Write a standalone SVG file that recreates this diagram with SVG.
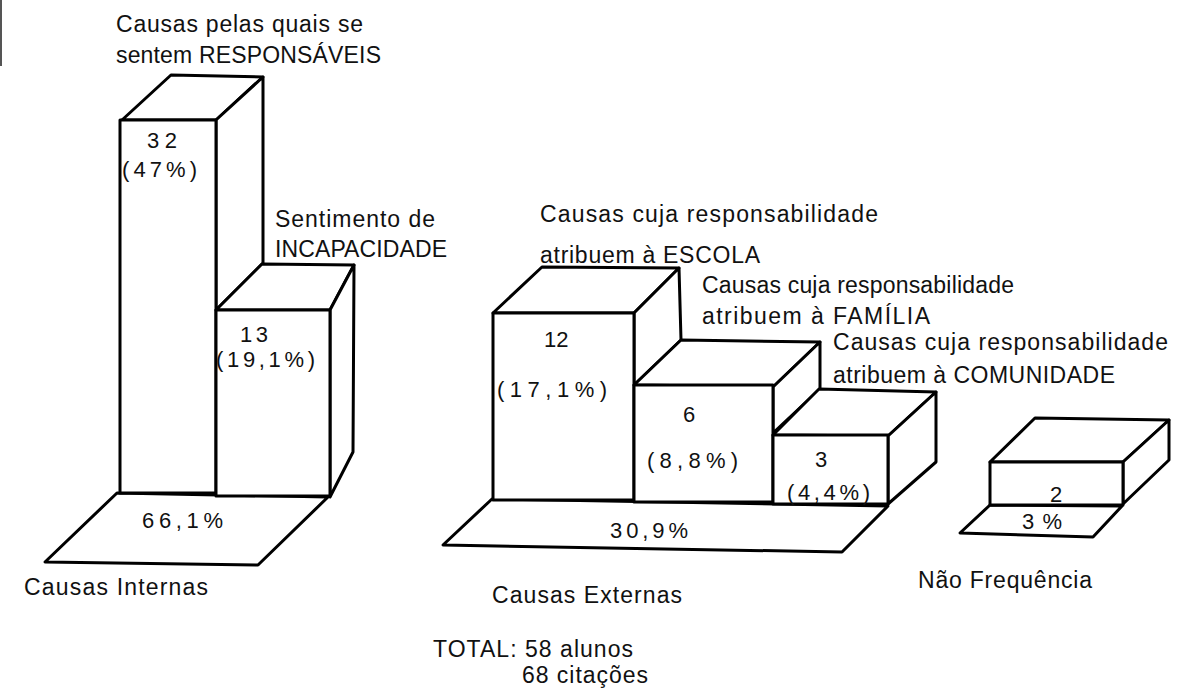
<svg xmlns="http://www.w3.org/2000/svg" width="1194" height="700" viewBox="0 0 1194 700">
<style>
.f{fill:#fff;stroke:#000;stroke-width:3;stroke-linejoin:round}
.t{font-family:"Liberation Sans",Arial,sans-serif;font-size:23px;fill:#111}
.n{font-family:"Liberation Sans",Arial,sans-serif;font-size:22px;fill:#111}
</style>
<rect width="1194" height="700" fill="#fff"/>
<line x1="1" y1="0" x2="1" y2="66" stroke="#555" stroke-width="2"/>
<g id="internas">
<polygon class="f" points="117,493 328,497 258,565 45,562"/>
<polygon class="f" points="122,120 171,75 263,77 216,120"/>
<polygon class="f" points="216,120 263,77 263,263 216,310"/>
<rect class="f" x="120" y="120" width="96" height="373"/>
<polygon class="f" points="216,310 262,264 354,265 330,310"/>
<polygon class="f" points="330,310 354,265 353,452 330,497"/>
<rect class="f" x="216" y="310" width="114" height="186"/>
<text class="n" x="147" y="148" textLength="30" lengthAdjust="spacing">32</text>
<text class="n" x="122" y="177" textLength="75" lengthAdjust="spacing">(47%)</text>
<text class="n" x="240" y="342" textLength="28" lengthAdjust="spacing">13</text>
<text class="n" x="216" y="367" textLength="99" lengthAdjust="spacing">(19,1%)</text>
<text class="n" x="142" y="528" textLength="81" lengthAdjust="spacing">66,1%</text>
<text class="t" x="116" y="32" textLength="247" lengthAdjust="spacing">Causas pelas quais se</text>
<text class="t" x="116" y="63" textLength="265" lengthAdjust="spacing">sentem RESPONSÁVEIS</text>
<text class="t" x="275" y="227" textLength="160" lengthAdjust="spacing">Sentimento de</text>
<text class="t" x="275" y="257" textLength="172" lengthAdjust="spacing">INCAPACIDADE</text>
<text class="t" x="24" y="595" textLength="184" lengthAdjust="spacing">Causas Internas</text>
</g>
<g id="externas">
<polygon class="f" points="492,499 888,506 842,552 443,545"/>
<polygon class="f" points="493,313 542,267 679,268 634,313"/>
<polygon class="f" points="634,313 679,268 681,340 634,385"/>
<rect class="f" x="493" y="313" width="141" height="187"/>
<polygon class="f" points="634,385 681,340 820,342 773,387"/>
<polygon class="f" points="773,387 820,342 820,389 773,433"/>
<rect class="f" x="634" y="385" width="139" height="117"/>
<polygon class="f" points="773,435 819,389 936,392 888,436"/>
<polygon class="f" points="888,436 936,392 936,462 888,504"/>
<rect class="f" x="773" y="435" width="115" height="69"/>
<text class="n" x="544" y="347">12</text>
<text class="n" x="497" y="397" textLength="110" lengthAdjust="spacing">(17,1%)</text>
<text class="n" x="683" y="422">6</text>
<text class="n" x="647" y="468" textLength="91" lengthAdjust="spacing">(8,8%)</text>
<text class="n" x="815" y="467">3</text>
<text class="n" x="787" y="500" textLength="83" lengthAdjust="spacing">(4,4%)</text>
<text class="n" x="610" y="538" textLength="78" lengthAdjust="spacing">30,9%</text>
<text class="t" x="540" y="222" textLength="338" lengthAdjust="spacing">Causas cuja responsabilidade</text>
<text class="t" x="540" y="263" textLength="220" lengthAdjust="spacing">atribuem à ESCOLA</text>
<text class="t" x="702" y="293" textLength="312" lengthAdjust="spacing">Causas cuja responsabilidade</text>
<text class="t" x="702" y="324" textLength="228" lengthAdjust="spacing">atribuem à FAMÍLIA</text>
<text class="t" x="833" y="350" textLength="335" lengthAdjust="spacing">Causas cuja responsabilidade</text>
<text class="t" x="833" y="383" textLength="282" lengthAdjust="spacing">atribuem à COMUNIDADE</text>
<text class="t" x="492" y="603" textLength="190" lengthAdjust="spacing">Causas Externas</text>
</g>
<g id="nao-frequencia">
<polygon class="f" points="990,505 1122,506 1093,537 960,533"/>
<polygon class="f" points="990,462 1035,418 1169,420 1123,462"/>
<polygon class="f" points="1123,462 1169,420 1169,460 1123,504"/>
<rect class="f" x="990" y="462" width="133" height="43"/>
<text class="n" x="1050" y="502">2</text>
<text class="n" x="1022" y="529" textLength="40" lengthAdjust="spacing">3%</text>
<text class="t" x="918" y="588" textLength="174" lengthAdjust="spacing">Não Frequência</text>
</g>
<g id="total">
<text class="t" x="433" y="657" textLength="200" lengthAdjust="spacing">TOTAL: 58 alunos</text>
<text class="t" x="522" y="683" textLength="126" lengthAdjust="spacing">68 citações</text>
</g>
<g id="connectors"></g>
</svg>
